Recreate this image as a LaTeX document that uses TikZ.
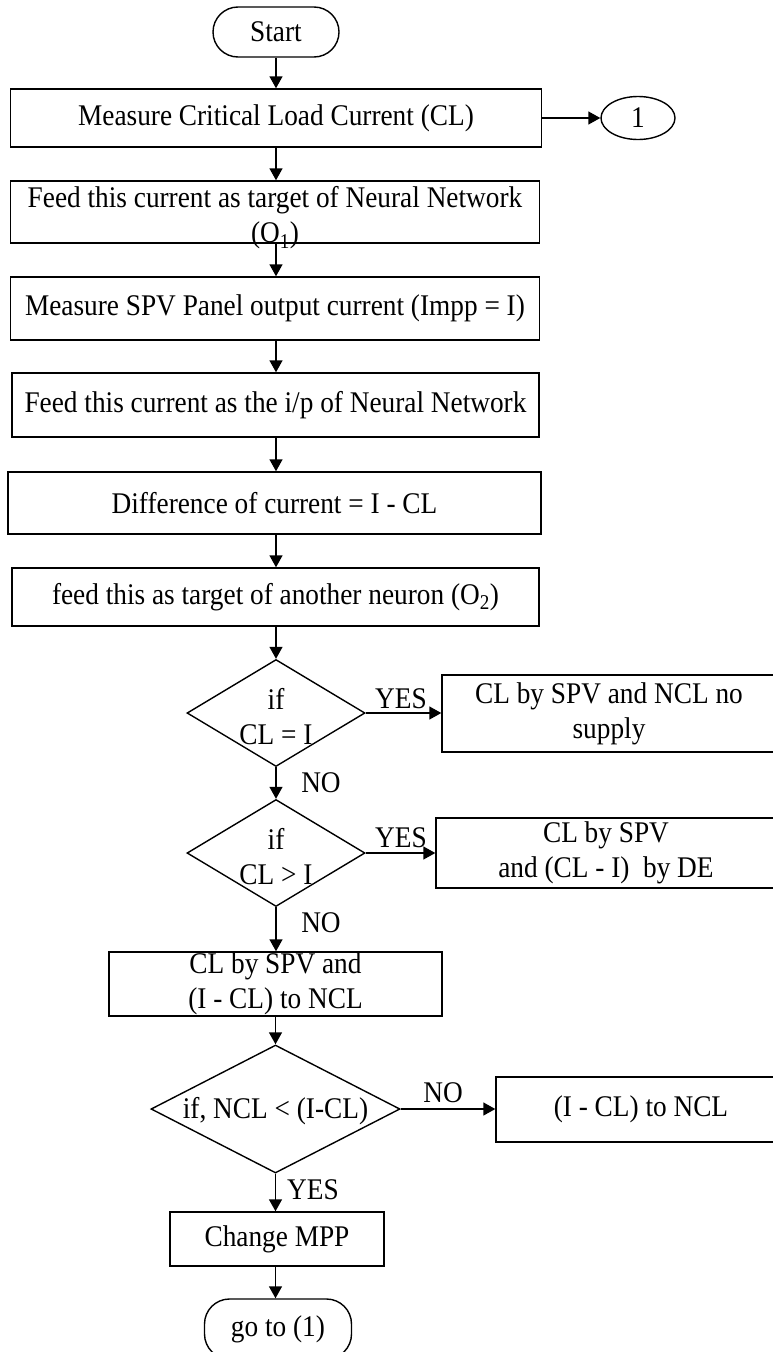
\documentclass[tikz,border=0pt]{standalone}
\usepackage{fontspec}
\setmainfont[FakeStretch=0.91]{Liberation Serif}
\usetikzlibrary{shapes.geometric,arrows.meta}
\begin{document}
\begin{tikzpicture}[x=1pt,y=-1pt,
  every node/.style={font=\fontsize{30}{35}\selectfont},
  box/.style={draw, line width=1.4pt, rectangle, inner sep=0pt, align=center},
  term/.style={draw, line width=1.4pt, rectangle, rounded corners=25pt, inner sep=0pt},
  oval/.style={draw, line width=1.4pt, ellipse, inner sep=0pt},
  dia/.style={draw, line width=1.4pt, diamond, inner sep=0pt},
  txt/.style={inner sep=0pt, align=center},
  arr/.style={line width=1.4pt, -{Triangle[length=12pt,width=13pt]}},
]
\useasboundingbox[fill=white] (0,0) rectangle (773,1352);

% main column
\node[term, minimum width=126pt, minimum height=50pt] (start) at (276,32) {Start};
\node[box, minimum width=531pt, minimum height=58pt] (b1) at (276,118) {Measure Critical Load Current (CL)};
\node[oval, minimum width=74pt, minimum height=43pt] (c1) at (638,118) {1};
\node[box, minimum width=529pt, minimum height=62pt] (b2) at (275,212) {};
\node[txt] (b2t) at (275,218) {Feed this current as target of Neural Network\\(O\textsubscript{1})};
\node[box, minimum width=529pt, minimum height=63pt] (b3) at (275,308.5) {Measure SPV Panel output current (Impp = I)};
\node[box, minimum width=527pt, minimum height=64pt] (b4) at (275.5,405) {Feed this current as the i/p of Neural Network};
\node[box, minimum width=533pt, minimum height=62pt] (b5) at (274.5,503) {Difference of current = I - CL};
\node[box, minimum width=527pt, minimum height=58pt] (b6) at (275.5,597) {feed this as target of another neuron (O\textsubscript{2})};

% decisions
\node[dia, minimum width=178pt, minimum height=107pt] (d1) at (276,713) {};
\node[txt] (d1t) at (276,717) {if\\CL = I};
\node[box, minimum width=334pt, minimum height=77pt] (ba) at (609,713.5) {CL by SPV and NCL no\\supply};

\node[dia, minimum width=178pt, minimum height=107pt] (d2) at (276,853) {};
\node[txt] (d2t) at (276,857) {if\\CL > I};
\node[box, minimum width=340pt, minimum height=70pt] (bb) at (606,853) {CL by SPV\\and (CL - I)\ \ by DE};

\node[box, minimum width=333pt, minimum height=64pt] (bc) at (275.5,984) {CL by SPV and\\(I - CL) to NCL};

\node[dia, minimum width=249pt, minimum height=128pt] (d3) at (275.5,1109) {};
\node[txt] (d3t) at (275.5,1111) {if, NCL < (I-CL)};
\node[box, minimum width=290pt, minimum height=65pt] (bd) at (641,1109.5) {(I - CL) to NCL};

\node[box, minimum width=214pt, minimum height=54pt] (be) at (277,1239) {Change MPP};
\node[term, minimum width=147pt, minimum height=60pt] (goto) at (278,1329) {go to (1)};

% labels
\node[txt] (y1) at (401,699) {YES};
\node[txt] (n1) at (321,783) {NO};
\node[txt] (y2) at (401,838) {YES};
\node[txt] (n2) at (321,923) {NO};
\node[txt] (n3) at (443,1093) {NO};
\node[txt] (y3) at (313,1190) {YES};

% connectors
\draw[arr] (start.south) -- (start.south |- b1.north);
\draw[arr] (b1.east) -- (c1.west);
\draw[arr] (b1.south -| start.south) -- (start.south |- b2.north);
\draw[arr] (b2.south -| start.south) -- (start.south |- b3.north);
\draw[arr] (b3.south -| start.south) -- (start.south |- b4.north);
\draw[arr] (b4.south -| start.south) -- (start.south |- b5.north);
\draw[arr] (b5.south -| start.south) -- (start.south |- b6.north);
\draw[arr] (b6.south -| d1.north) -- (d1.north);
\draw[arr] (d1.east) -- (d1.east -| ba.west);
\draw[arr] (d1.south) -- (d2.north);
\draw[arr] (d2.east) -- (d2.east -| bb.west);
\draw[arr] (d2.south) -- (d2.south |- bc.north);
\draw[arr] (bc.south -| d3.north) -- (d3.north);
\draw[arr] (d3.east) -- (d3.east -| bd.west);
\draw[arr] (d3.south) -- (d3.south |- be.north);
\draw[arr] (be.south -| d3.south) -- (d3.south |- goto.north);
\end{tikzpicture}
\end{document}
